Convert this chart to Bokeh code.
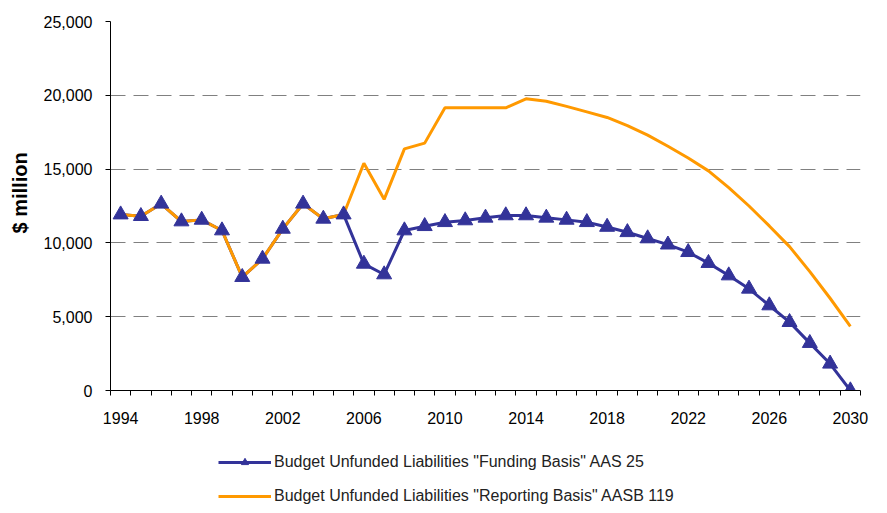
from bokeh.plotting import figure
from bokeh.layouts import column
from bokeh.models import FixedTicker, NumeralTickFormatter, Range1d, Legend, LegendItem, Title
from bokeh.embed import file_html
from bokeh.resources import INLINE

years = list(range(1994, 2031))
funding_basis = [11920, 11810, 12650, 11450, 11560, 10840, 7680, 8920, 10950, 12650, 11630, 11920,
                 8580, 7860,
                 10840, 11130, 11400, 11520, 11700, 11860, 11860, 11700, 11560, 11400,
                 11080, 10720, 10300, 9880, 9370, 8630, 7790, 6890, 5760, 4630, 3210, 1810, 0]
reporting_basis = [11920, 11810, 12650, 11450, 11560, 10840, 7680, 8920, 10950, 12650, 11630, 11920,
                   15400, 12950,
                   16370, 16760, 19150, 19150, 19150, 19150, 19760, 19600, 19250, 18880,
                   18500, 17950, 17300, 16550, 15750, 14880, 13750, 12500, 11150, 9750, 8050, 6250, 4350]
x_tick_years = [1994, 1998, 2002, 2006, 2010, 2014, 2018, 2022, 2026, 2030]
y_ticks = [0, 5000, 10000, 15000, 20000, 25000]
legend_labels = ['Budget Unfunded Liabilities "Funding Basis" AAS 25',
                 'Budget Unfunded Liabilities "Reporting Basis" AASB 119']
y_title = "$ million"

BLUE = "#333399"
ORANGE = "#FF9900"
FONT = "Liberation Sans"

p = figure(width=879, height=438, output_backend="svg", toolbar_location=None,
           x_range=Range1d(years[0] - 0.5, years[-1] + 0.5), y_range=Range1d(0, 25000),
           min_border_left=109, min_border_right=19, min_border_top=21, min_border_bottom=48)
p.title.visible = False
p.outline_line_color = None
p.background_fill_color = "white"

p.xgrid.visible = False
p.ygrid.ticker = FixedTicker(ticks=y_ticks[1:])
p.ygrid.grid_line_color = "#808080"
p.ygrid.grid_line_dash = "15 8"
p.ygrid.grid_line_width = 1

xa = p.xaxis[0]
xa.ticker = FixedTicker(ticks=x_tick_years, minor_ticks=[y - 0.5 for y in years] + [years[-1] + 0.5])
xa.major_tick_out = 0
xa.major_tick_in = 0
xa.minor_tick_out = 5
xa.minor_tick_in = 0
xa.minor_tick_line_color = "black"
xa.major_label_standoff = 16
xa.axis_line_color = "black"
xa.major_label_text_font = FONT
xa.major_label_text_font_size = "16px"
xa.major_label_text_color = "black"

ya = p.yaxis[0]
ya.ticker = FixedTicker(ticks=y_ticks)
ya.formatter = NumeralTickFormatter(format="0,0")
ya.major_tick_out = 5
ya.major_tick_in = 0
ya.minor_tick_out = 0
ya.minor_tick_in = 0
ya.major_tick_line_color = "black"
ya.major_label_standoff = 13
ya.axis_line_color = "black"
ya.major_label_text_font = FONT
ya.major_label_text_font_size = "16px"
ya.major_label_text_color = "black"

blue_line = p.line(years, funding_basis, line_color=BLUE, line_width=3)
orange_line = p.line(years, reporting_basis, line_color=ORANGE, line_width=3)
blue_pts = p.scatter(years, funding_basis, marker="triangle", size=15,
                     fill_color=BLUE, line_color=BLUE)

p.add_layout(Title(text=y_title, align="left", offset=157, standoff=16, vertical_align="top",
                   text_font=FONT, text_font_style="bold", text_font_size="20px",
                   text_color="black"), "left")

# legend strip below the chart (its frame is aligned with the chart's frame)
q = figure(width=879, height=67, output_backend="svg", toolbar_location=None,
           x_axis_location=None, y_axis_location=None, min_border=0,
           x_range=Range1d(0, 1), y_range=Range1d(0, 1))
q.title.visible = False
q.outline_line_color = None
q.grid.visible = False
# proxy renderers placed outside the visible range: only their legend glyphs show
lg_blue_line = q.line([2, 3], [2, 3], line_color=BLUE, line_width=3)
lg_blue_pts = q.scatter([2, 3], [2, 3], marker="triangle", size=15, fill_color=BLUE, line_color=BLUE)
lg_orange_line = q.line([2, 3], [2, 3], line_color=ORANGE, line_width=3)

legend = Legend(items=[LegendItem(label=legend_labels[0], renderers=[lg_blue_line, lg_blue_pts]),
                       LegendItem(label=legend_labels[1], renderers=[lg_orange_line])],
                location=(108, 0), orientation="vertical",
                glyph_width=53, glyph_height=18, label_height=18, spacing=16,
                padding=0, margin=0, label_standoff=3,
                border_line_color=None, background_fill_alpha=0,
                label_text_font=FONT, label_text_font_size="16px", label_text_color="#222222")
q.add_layout(legend)

layout = column(p, q, spacing=0)
open("out.html", "w").write(file_html(layout, INLINE))
